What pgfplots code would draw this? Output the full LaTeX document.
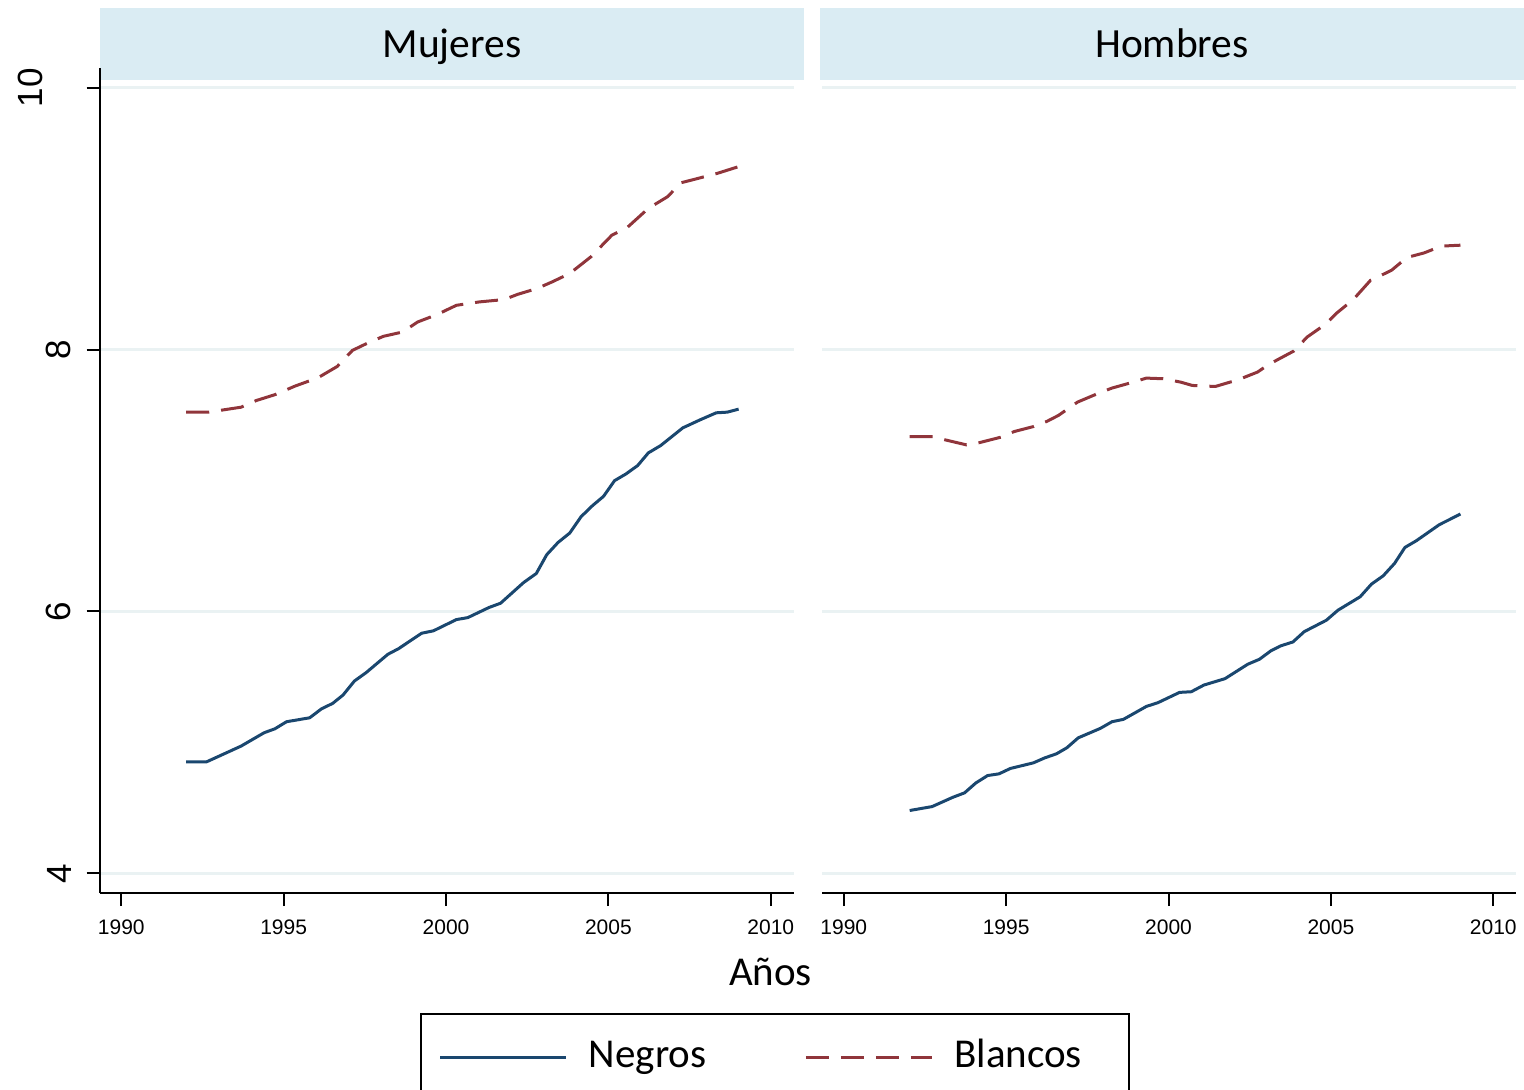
\documentclass[border=0pt]{standalone}
\usepackage{fontspec}
\setmainfont{Carlito}
\newfontfamily\arialfont{Liberation Sans}
\usepackage{pgfplots}
\pgfplotsset{compat=1.18}
\definecolor{negro}{RGB}{26,71,111}
\definecolor{blanco}{RGB}{144,53,59}
\definecolor{strip}{RGB}{218,236,243}
\definecolor{gridc}{RGB}{234,242,243}

\pgfplotsset{
  panel/.style={
    scale only axis, width=694pt, height=825pt,
    xmin=1989.33, xmax=2010.70, ymin=3.85, ymax=10.15,
    axis x line=bottom, axis y line=left,
    axis line style={-, line width=2pt, black},
    xtick={1990,1995,2000,2005,2010},
    xticklabels={1990,1995,2000,2005,2010},
    ytick={4,6,8,10},
    tick align=outside, major tick length=13pt,
    tick style={line width=2pt, black},
    ymajorgrids, grid style={gridc, line width=3pt},
    xmajorgrids=false,
    /pgf/number format/assume math mode=true,
    xticklabel style={font=\arialfont\fontsize{21}{21}\selectfont, inner xsep=0pt, inner ysep=14pt, anchor=north},
    clip=false,
  },
  negros/.style={negro, line width=3pt, line join=round},
  blancos/.style={blanco, line width=3pt, line join=round, dash pattern=on 23pt off 12pt},
}

\begin{document}
\begin{tikzpicture}
% panel strips
\fill[strip] (99.5pt,-7.5pt) rectangle (804pt,-80pt);
\fill[strip] (820pt,-7.5pt) rectangle (1524pt,-80pt);
\node[anchor=base, font=\fontsize{41.5}{50}\selectfont, inner sep=0pt] at (452pt,-57.5pt) {Mujeres};
\node[anchor=base, font=\fontsize{41.5}{50}\selectfont, inner sep=0pt] at (1172pt,-57.5pt) {Hombres};

% left panel
\begin{axis}[panel, at={(99.5pt,-893pt)}, anchor=south west,
  yticklabels={4,6,8,\raisebox{29pt}{10}},
  yticklabel style={rotate=90, anchor=south, font=\arialfont\fontsize{35}{35}\selectfont, inner xsep=0pt, inner ysep=15pt},
  legend columns=2,
  legend style={at={(0.4618,-0.14545)}, anchor=north west, draw=black, line width=2pt,
    inner xsep=18pt, inner ysep=23pt,
    font=\fontsize{41}{49}\selectfont,
    nodes={inner sep=0pt, text height=30pt, text depth=10pt},
    /tikz/every odd column/.append style={column sep=21pt},
    /tikz/every even column/.append style={column sep=98pt}},
  legend cell align=left,
  legend image code/.code={\draw[#1] (0pt,0pt) -- (126pt,0pt);},
]
\addplot[negros] coordinates {
(1992.0,4.852)(1992.63,4.852)(1993.69,4.972)(1994.40,5.074)(1994.73,5.104)(1995.09,5.158)(1995.80,5.188)(1996.17,5.257)(1996.51,5.298)(1996.83,5.362)(1997.18,5.469)(1997.54,5.533)(1998.21,5.673)(1998.54,5.716)(1999.25,5.834)(1999.61,5.852)(2000.32,5.938)(2000.67,5.953)(2001.32,6.030)(2001.68,6.063)(2002.39,6.221)(2002.78,6.290)(2003.10,6.433)(2003.45,6.527)(2003.81,6.599)(2004.16,6.724)(2004.51,6.808)(2004.85,6.879)(2005.19,6.999)(2005.54,7.050)(2005.90,7.114)(2006.23,7.211)(2006.61,7.267)(2007.29,7.402)(2007.83,7.464)(2008.32,7.517)(2008.66,7.522)(2009.01,7.545)
};
\addlegendentry{Negros}
\addplot[blancos] coordinates {
(1992.0,7.522)(1992.69,7.522)(1993.69,7.560)(1994.16,7.611)(1994.75,7.657)(1995.35,7.721)(1996.06,7.785)(1996.65,7.871)(1997.12,7.994)(1997.59,8.050)(1998.07,8.101)(1998.66,8.134)(1999.13,8.211)(1999.72,8.267)(2000.32,8.338)(2001.03,8.364)(2001.79,8.382)(2002.21,8.422)(2002.80,8.466)(2003.27,8.517)(2003.81,8.581)(2004.46,8.708)(2005.11,8.874)(2005.58,8.932)(2006.23,9.078)(2006.82,9.167)(2007.24,9.274)(2007.65,9.300)(2008.36,9.346)(2009.01,9.397)
};
\addlegendentry{Blancos\rule{29pt}{0pt}}
\end{axis}

% right panel
\begin{axis}[panel, at={(822pt,-893pt)}, anchor=south west,
  yticklabels={,,,}, y axis line style={draw=none}, ytick style={draw=none},
]
\addplot[negros] coordinates {
(1992.03,4.480)(1992.72,4.510)(1993.36,4.581)(1993.72,4.615)(1994.07,4.691)(1994.43,4.747)(1994.78,4.760)(1995.13,4.801)(1995.84,4.844)(1996.19,4.882)(1996.55,4.913)(1996.87,4.959)(1997.22,5.035)(1997.90,5.107)(1998.26,5.158)(1998.61,5.176)(1999.32,5.275)(1999.67,5.303)(2000.34,5.382)(2000.70,5.387)(2001.09,5.438)(2001.74,5.487)(2002.44,5.597)(2002.80,5.635)(2003.15,5.699)(2003.45,5.737)(2003.83,5.767)(2004.18,5.846)(2004.86,5.933)(2005.22,6.010)(2005.90,6.112)(2006.25,6.209)(2006.61,6.272)(2006.96,6.367)(2007.28,6.489)(2007.63,6.540)(2008.34,6.663)(2008.99,6.744)
};
\addplot[blancos] coordinates {
(1992.03,7.336)(1992.74,7.336)(1993.13,7.310)(1993.78,7.272)(1994.19,7.290)(1994.84,7.331)(1995.25,7.374)(1995.84,7.412)(1996.25,7.451)(1996.61,7.497)(1997.20,7.599)(1997.85,7.667)(1998.26,7.706)(1998.85,7.747)(1999.32,7.782)(1999.85,7.777)(2000.38,7.751)(2000.73,7.726)(2001.44,7.718)(2002.15,7.770)(2002.74,7.828)(2003.09,7.887)(2003.86,7.989)(2004.27,8.096)(2004.86,8.198)(2005.16,8.275)(2005.69,8.382)(2006.22,8.529)(2006.45,8.555)(2006.87,8.606)(2007.34,8.703)(2007.87,8.738)(2008.40,8.790)(2008.99,8.797)
};
\end{axis}

\node[anchor=base, font=\fontsize{41}{49}\selectfont, inner sep=0pt] at (770.5pt,-985pt) {Años};

\pgfresetboundingbox
\path[use as bounding box] (0pt,0pt) rectangle (1524pt,-1090pt);
\end{tikzpicture}
\end{document}
